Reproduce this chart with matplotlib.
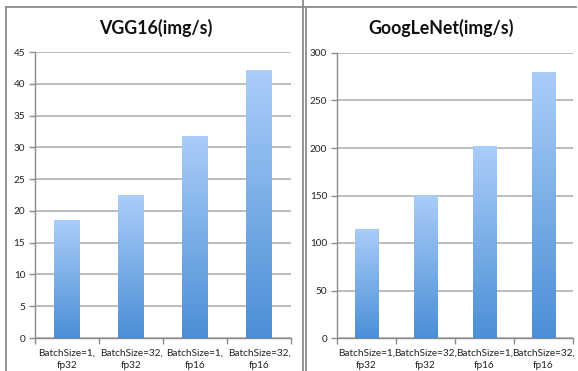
import numpy as np
import matplotlib
matplotlib.use("Agg")
import matplotlib.pyplot as plt
from matplotlib.lines import Line2D
from matplotlib.colors import LinearSegmentedColormap

categories = ["BatchSize=1,\nfp32", "BatchSize=32,\nfp32", "BatchSize=1,\nfp16", "BatchSize=32,\nfp16"]
vgg16_vals = [18.5, 22.5, 31.8, 42.1]
googlenet_vals = [115, 151, 202, 280]
vgg16_ticks = [0, 5, 10, 15, 20, 25, 30, 35, 40, 45]
googlenet_ticks = [0, 50, 100, 150, 200, 250, 300]

plt.rcParams["font.family"] = ["Lato", "DejaVu Sans"]

W, H = 578, 371
fig = plt.figure(figsize=(W / 100, H / 100), dpi=100)

grad = LinearSegmentedColormap.from_list("bar", ["#4b8fd6", "#aacdf9"])
border = "#8c8c8c"


def px(x0, y0, x1, y1):
    # pixel box (top-left origin) -> figure fraction rect
    return [x0 / W, 1 - y1 / H, (x1 - x0) / W, (y1 - y0) / H]


def panel(rect, values, ticks, title, title_x):
    ax = fig.add_axes(rect)
    x = np.arange(len(values)) + 0.5
    bars = ax.bar(x, values, width=0.4, color="none", edgecolor="none", zorder=3)
    g = np.linspace(0, 1, 256).reshape(-1, 1)
    for b in bars:
        bx, by = b.get_x(), b.get_y()
        bw, bh = b.get_width(), b.get_height()
        im = ax.imshow(g, cmap=grad, origin="lower", aspect="auto",
                       extent=[bx, bx + bw, by, by + bh], zorder=3)
        im.set_clip_path(b)
    ax.set_xlim(0, len(values))
    ax.set_ylim(0, ticks[-1])
    ax.set_yticks(ticks)
    ax.set_yticklabels([str(t) for t in ticks], fontsize=7.2, color="#222222")
    ax.set_xticks(np.arange(len(values) + 1))
    ax.set_xticklabels([])
    ax.set_xticks(x, minor=True)
    ax.set_xticklabels(categories, minor=True, fontsize=7.2, color="#222222",
                       linespacing=1.45)
    ax.tick_params(axis="x", which="minor", length=0, pad=8)
    ax.tick_params(axis="x", which="major", length=4, color=border, width=1)
    ax.tick_params(axis="y", length=4, color=border, width=1, pad=3)
    ax.grid(axis="y", color="#bdbdbd", linewidth=1.4, zorder=0)
    ax.set_axisbelow(True)
    for s in ["top", "right"]:
        ax.spines[s].set_visible(False)
    for s in ["left", "bottom"]:
        ax.spines[s].set_color(border)
        ax.spines[s].set_linewidth(1)
    fig.text(title_x / W, 1 - 28 / H, title, ha="center", va="center",
             fontsize=12.8, fontweight="bold", color="#111111")
    return ax


panel(px(35, 52, 291, 338), vgg16_vals, vgg16_ticks, "VGG16(img/s)", 156)
panel(px(337, 53, 573, 338), googlenet_vals, googlenet_ticks, "GoogLeNet(img/s)", 441)

# panel frames
fig.add_artist(Line2D([6 / W, 6 / W], [0, 1 - 7 / H], color=border, lw=1.3,
                      transform=fig.transFigure))
fig.add_artist(Line2D([6 / W, 304 / W], [1 - 7 / H, 1 - 7 / H], color=border, lw=1.3,
                      transform=fig.transFigure))
fig.add_artist(Line2D([303 / W, 303 / W], [0, 1], color=border, lw=1.3,
                      transform=fig.transFigure))
fig.add_artist(Line2D([306 / W, 306 / W], [0, 1 - 7 / H], color=border, lw=1.3,
                      transform=fig.transFigure))
fig.add_artist(Line2D([306 / W, 576 / W], [1 - 7 / H, 1 - 7 / H], color=border, lw=1.3,
                      transform=fig.transFigure))

fig.savefig("out.png", dpi=100)
